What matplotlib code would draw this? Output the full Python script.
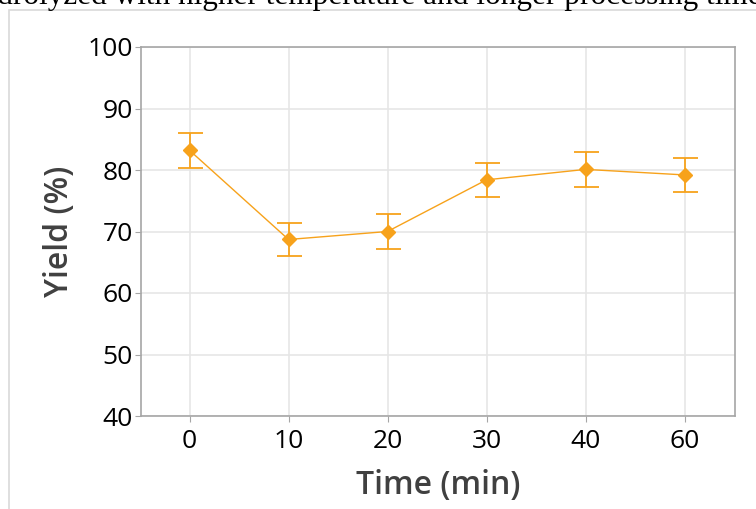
import numpy as np
import matplotlib.pyplot as plt
from matplotlib.patches import Rectangle

# 数据
times = ['0', '10', '20', '30', '40', '60']
yields = [83.2, 68.7, 70.0, 78.4, 80.1, 79.2]
errors = [2.8, 2.75, 2.8, 2.75, 2.8, 2.8]

plt.rcParams['font.family'] = ['Open Sans', 'DejaVu Sans']

fig = plt.figure(figsize=(7.56, 5.09), dpi=100)

# 截图里的文档背景：上方被截断的正文和图框
fig.text(-0.045, 1 - 4 / 509, 'hydrolyzed with higher temperature and longer processing time',
         family='Liberation Serif', fontsize=22.5, va='baseline', ha='left', color='black')
fig.patches.append(Rectangle((9 / 756, -0.1), 1.2, 1 - 10 / 509 + 0.1, transform=fig.transFigure,
                             fill=False, edgecolor='#d9d9d9', linewidth=1.2))

ax = fig.add_axes([141 / 756, 1 - 416 / 509, (735 - 141) / 756, (416 - 47) / 509])
x = np.arange(len(times))
orange = '#f7a21b'
ax.plot(x, yields, color=orange, linewidth=1.0, zorder=3)
ax.errorbar(x, yields, yerr=errors, fmt='D', color=orange, markersize=7,
            elinewidth=1.3, capsize=9, capthick=1.3, zorder=4)

ax.set_xlim(-0.49, 5.51)
ax.set_ylim(40, 100)
ax.set_yticks(range(40, 101, 10))
ax.set_xticks(x)
ax.set_xticklabels(times)
ax.grid(True, color='#e6e6e6', linewidth=1.2)
ax.set_axisbelow(True)
for s in ax.spines.values():
    s.set_color('#a6a6a6')
    s.set_linewidth(1.2)
ax.tick_params(axis='both', labelsize=19, color='#a6a6a6', length=4, pad=2)
ax.tick_params(axis='x', pad=5)
ax.set_xlabel('Time (min)', fontsize=23, fontweight='semibold', color='#404040', labelpad=11)
ax.set_ylabel('Yield (%)', fontsize=23, fontweight='semibold', color='#404040', labelpad=8)

fig.savefig('out.png', dpi=100)
